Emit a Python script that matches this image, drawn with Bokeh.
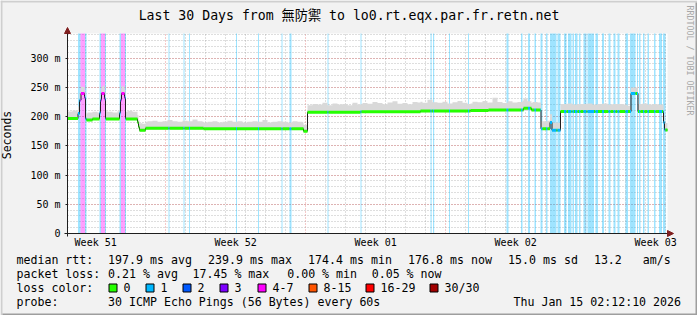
import bisect
import math

from bokeh.core.properties import value
from bokeh.embed import file_html
from bokeh.models import (Arrow, CustomJSTickFormatter, FixedTicker, NormalHead, Range1d,
                          SingleIntervalTicker)
from bokeh.plotting import figure
from bokeh.resources import INLINE

# ------------------------------------------------------------------ data
TITLE = "Last 30 Days from 無防禦 to lo0.rt.eqx.par.fr.retn.net"
SPAN_H = 720            # hours shown, from Tue 2025-12-16 02:12:10 to Thu 2026-01-15 02:12:10
Y_MAX_MS = 342
Y_TICK_STEP = 50

WEEK_START_H = [117.8, 285.8, 453.8, 621.8]          # Sunday 00:00 boundaries
WEEK_LABEL_H = [33.8, 201.8, 369.8, 537.8, 705.8]    # middle of each week
WEEK_LABELS = ["Week 51", "Week 52", "Week 01", "Week 02", "Week 03"]
FIRST_MIDNIGHT_H = 21.8

# median rtt (ms) as a step series: value holds from MEDIAN_T[i] until the next time
MEDIAN_T = [0, 12.6, 14.4, 16.2, 20.4, 21.6, 22.8, 30.0,
            38.4, 39.6, 40.8, 44.4, 45.6,
            62.4, 63.6, 64.8, 68.4, 69.6,
            84.0, 85.2, 86.4, 93.6,
            163.2, 283.2, 288.0,
            351.6, 423.6, 483.6, 505.2,
            547.2, 556.8,
            568.2, 579.0, 581.4, 591.6,
            676.2, 684.6,
            715.2, 716.4]
MEDIAN_MS = [196.5, 205, 228, 239.5, 232, 196, 194, 196,
             206, 228, 239.5, 230, 196,
             206, 228, 239.5, 232, 196,
             190, 182, 176.5, 180,
             179, 175, 207.5,
             208, 209.5, 210.5, 211,
             214, 211,
             179, 190, 176.5, 208.5,
             239.5, 208.5,
             190, 177]

# periods with packet loss (hours) and their loss class (index into LOSS_LABELS)
LOSS_START = [12.6, 15.6, 21.0, 38.4, 40.2, 45.0, 62.4, 64.2, 69.0,
              121.2, 139.2, 145.8, 202.2, 228.6, 256.8, 266.4, 312.0, 351.6,
              435.6, 438.6, 457.8, 480.6, 526.8, 544.2, 552.6, 560.4,
              567.6, 574.2, 579.0, 588.0, 595.8, 600.6, 606.0, 609.0, 613.8,
              619.2, 624.0, 633.6, 641.4, 649.2, 655.2, 660.0,
              669.6, 675.0, 683.4, 685.8, 690.6, 696.0, 703.8, 709.8, 714.6]
LOSS_END = [15.6, 21.0, 22.8, 40.2, 45.0, 46.2, 64.2, 69.0, 70.2,
            122.4, 140.4, 147.0, 203.4, 229.8, 258.0, 268.8, 313.2, 352.8,
            437.0, 440.0, 459.0, 481.8, 529.2, 546.0, 555.0, 562.2,
            570.0, 576.0, 586.8, 591.6, 598.8, 604.8, 607.8, 612.0, 615.6,
            622.8, 631.8, 636.6, 643.8, 651.6, 657.6, 662.4,
            672.6, 681.6, 684.6, 687.6, 692.4, 697.8, 705.6, 713.4, 717.6]
LOSS_CLASS = [1, 4, 1, 1, 4, 1, 1, 4, 1,
              1, 1, 1, 1, 1, 1, 1, 1, 1,
              1, 1, 1, 1, 1, 1, 1, 1,
              1, 1, 1, 1, 1, 1, 1, 1, 1,
              1, 1, 1, 1, 1, 1, 1,
              1, 1, 1, 1, 1, 1, 1, 1, 1]

# smoke: spread of the pings above the median (ms), one value per 6-hour bin
SPREAD_BIN_H = 6
SPREAD_MS = [12, 14, 12, 11, 13, 12, 11, 13, 12, 11,
             13, 12, 14, 12, 12, 11, 12, 13, 11, 12,
             14, 12, 11, 13, 12, 15, 12, 11, 12, 13,
             11, 12, 14, 12, 13, 11, 12, 13, 12, 15,
             11, 12, 13, 12, 11, 13, 12, 11, 12, 14,
             13, 16, 12, 15, 13, 14, 12, 16, 13, 15,
             14, 17, 15, 13, 16, 18, 14, 15, 13, 17,
             16, 14, 19, 15, 14, 16, 13, 15, 17, 14,
             12, 15, 14, 16, 13, 21, 14, 12, 15, 13,
             14, 16, 12, 14, 13, 13, 14, 13, 13, 13,
             14, 12, 13, 13, 14, 12, 13, 14, 12, 13,
             13, 12, 10, 10, 13, 14, 12, 13, 12, 12]

LOSS_LABELS = ["0", "1", "2", "3", "4-7", "8-15", "16-29", "30/30"]
LOSS_COLORS = ["#26ff00", "#00b8ff", "#0059ff", "#7e00ff",
               "#ff00ff", "#ff5500", "#ff0000", "#a10000"]

RTT_LABEL = "median rtt:"
RTT_STATS = ["197.9 ms avg", "239.9 ms max", "174.4 ms min", "176.8 ms now",
             "15.0 ms sd", "13.2", "am/s"]
LOSS_LABEL = "packet loss:"
LOSS_STATS = ["0.21 % avg", "17.45 % max", "0.00 % min", "0.05 % now"]
LOSSCOL_LABEL = "loss color:"
PROBE_LABEL = "probe:"
PROBE_TEXT = "30 ICMP Echo Pings (56 Bytes) every 60s"
STAMP = "Thu Jan 15 02:12:10 2026"
WATERMARK = "RRDTOOL / TOBI OETIKER"

# ------------------------------------------------------------------ layout / style (pixels)
FONT = "DejaVu Sans Mono"
TITLE_FONT = "DejaVu Sans Mono, Noto Sans CJK TC"
W, H = 697, 315
FRAME_L, FRAME_T, FRAME_W, FRAME_H = 67, 33, 600, 200
FRAME_B = FRAME_T + FRAME_H
RTT_X = [107.6, 207.6, 307.6, 407.6, 507.6, 593.4, 642.3]
LOSS_X = [107.6, 192.0, 286.7, 371.2]
SWATCH_X = [108, 145, 182, 219, 257, 308, 365, 429]
ROW_Y = [259.3, 273.3, 287.3, 301.0]


def hx(X):
    """window pixel column -> hours"""
    return (X - FRAME_L) * SPAN_H / FRAME_W


def my(Y):
    """window pixel row -> ms"""
    return (FRAME_B - Y) * Y_MAX_MS / FRAME_H


# ------------------------------------------------------------------ derived series
cuts = sorted(set([0.0, float(SPAN_H)] + MEDIAN_T + LOSS_START + LOSS_END
                  + [float(SPREAD_BIN_H * i) for i in range(len(SPREAD_MS) + 1)]))


def median_at(t):
    return MEDIAN_MS[bisect.bisect_right(MEDIAN_T, t) - 1]


def loss_at(t):
    for s, e, c in zip(LOSS_START, LOSS_END, LOSS_CLASS):
        if s <= t < e:
            return c
    return 0


def spread_at(t):
    return SPREAD_MS[min(int(t // SPREAD_BIN_H), len(SPREAD_MS) - 1)]


med_y = [median_at(t) for t in cuts]
smoke_lo = [median_at(t) - 2 for t in cuts]
smoke_hi = [median_at(t) + spread_at(t) for t in cuts]

seg_x0, seg_x1, seg_y, seg_c = [], [], [], []
for a, b in zip(cuts[:-1], cuts[1:]):
    v, c = median_at(a), LOSS_COLORS[loss_at(a)]
    if seg_x0 and seg_y[-1] == v and seg_c[-1] == c and seg_x1[-1] == a:
        seg_x1[-1] = b
    else:
        seg_x0.append(a)
        seg_x1.append(b)
        seg_y.append(v)
        seg_c.append(c)

# ------------------------------------------------------------------ figure
p = figure(width=W, height=H, title=None,
           x_range=Range1d(hx(0), hx(W)), y_range=Range1d(my(H), my(0)),
           output_backend="svg", toolbar_location=None, min_border=0)
p.background_fill_color = "#f2f2f2"
p.border_fill_color = "#f2f2f2"
p.outline_line_color = None

# canvas (white plotting area)
p.quad(left=0, right=SPAN_H, bottom=0, top=Y_MAX_MS, fill_color="white",
       line_color=None, level="image")

# 3d border of the image
p.quad(left=hx(0), right=hx(W), bottom=my(2), top=my(0), fill_color="#cfcfcf", line_color=None)
p.quad(left=hx(0), right=hx(2), bottom=my(H), top=my(0), fill_color="#cfcfcf", line_color=None)
p.quad(left=hx(2), right=hx(W), bottom=my(H), top=my(H - 2), fill_color="#9e9e9e", line_color=None)
p.quad(left=hx(W - 2), right=hx(W), bottom=my(H), top=my(2), fill_color="#9e9e9e", line_color=None)

# loss stripes
p.quad(left=LOSS_START, right=LOSS_END, bottom=0, top=Y_MAX_MS,
       fill_color=[LOSS_COLORS[c] for c in LOSS_CLASS], fill_alpha=0.376, line_color=None)
# smoke
p.varea_step(x=cuts, y1=smoke_lo, y2=smoke_hi, step_mode="after", fill_color="#d9d9d9")
# median line
p.step(x=cuts, y=med_y, mode="after", line_color="#202020", line_width=1)
p.segment(x0=seg_x0, x1=seg_x1, y0=seg_y, y1=seg_y, line_color=seg_c, line_width=3)

# axes, fixed at the origin
yax = p.yaxis[0]
yax.fixed_location = 0
yax.bounds = (my(FRAME_B + 3), Y_MAX_MS)
yax.ticker = SingleIntervalTicker(interval=Y_TICK_STEP, num_minor_ticks=5)
yax.formatter = CustomJSTickFormatter(code="return tick == 0 ? '0' : tick.toFixed(0) + ' m';")
yax.axis_label = "Seconds"
yax.axis_label_text_font = FONT
yax.axis_label_text_font_size = "11.5px"
yax.axis_label_text_font_style = "normal"
yax.axis_label_text_color = "black"
yax.axis_label_standoff = 13
yax.major_tick_out = 2
yax.major_tick_in = 0
yax.minor_tick_out = 0
yax.minor_tick_in = 0
yax.major_label_standoff = 5

xax = p.xaxis[0]
xax.fixed_location = 0
xax.bounds = (hx(FRAME_L - 3), SPAN_H)
xax.ticker = FixedTicker(ticks=WEEK_LABEL_H)
xax.formatter = CustomJSTickFormatter(
    args=dict(pos=WEEK_LABEL_H, labels=WEEK_LABELS),
    code="""let b = 0;
for (let i = 0; i < pos.length; i++) { if (Math.abs(pos[i] - tick) < Math.abs(pos[b] - tick)) b = i; }
return labels[b];""")
xax.major_tick_out = 0
xax.major_tick_in = 0
xax.minor_tick_out = 0
xax.minor_tick_in = 0
xax.major_label_standoff = 3

for ax in (xax, yax):
    ax.axis_line_color = "#1f1f1f"
    ax.major_tick_line_color = "#1f1f1f"
    ax.major_label_text_font = FONT
    ax.major_label_text_font_size = "10px"
    ax.major_label_text_color = "black"

# grid, restricted to the plotting area
xg = p.xgrid[0]
yg = p.ygrid[0]
midnights = [FIRST_MIDNIGHT_H + 24 * d for d in range(30)]
xg.ticker = FixedTicker(ticks=WEEK_START_H,
                        minor_ticks=[m for m in midnights
                                     if min(abs(m - w) for w in WEEK_START_H) > 1e-6])
xg.bounds = (0, SPAN_H)
xg.cross_bounds = (0, Y_MAX_MS)
yg.bounds = (0, Y_MAX_MS)
yg.cross_bounds = (0, SPAN_H)
for g in (xg, yg):
    g.grid_line_color = "#de4f4f"
    g.grid_line_alpha = 0.6
    g.grid_line_dash = "1 2"
    g.minor_grid_line_color = "#8f8f8f"
    g.minor_grid_line_alpha = 0.6
    g.minor_grid_line_dash = "1 2"

# axis arrows
head = dict(size=6, fill_color="#801f1f", line_color="#801f1f")
p.add_layout(Arrow(end=NormalHead(**head), x_start=0, y_start=Y_MAX_MS, x_end=0,
                   y_end=my(27), line_color="#1f1f1f", line_width=1))
p.add_layout(Arrow(end=NormalHead(**head), x_start=SPAN_H, y_start=0,
                   x_end=hx(673), y_end=0, line_color="#1f1f1f", line_width=1))


def txt(s, X, Y, align="left", size="11.6px", color="black", angle=0.0, font=FONT):
    p.text(x=[hx(X)], y=[my(Y)], text=[s], text_font=value(font),
           text_font_size=value(size), text_color=color, text_align=align,
           text_baseline="middle", angle=angle)


txt(TITLE, W / 2, 15, align="center", size="13.2px", font=TITLE_FONT)
txt(WATERMARK, 689, 5, size="8.3px", color="#a8a8a8", angle=-math.pi / 2)

txt(RTT_LABEL, 16, ROW_Y[0])
for s, x in zip(RTT_STATS, RTT_X):
    txt(s, x, ROW_Y[0])
txt(LOSS_LABEL, 16, ROW_Y[1])
for s, x in zip(LOSS_STATS, LOSS_X):
    txt(s, x, ROW_Y[1])
txt(LOSSCOL_LABEL, 16, ROW_Y[2])
for lab, col, sx in zip(LOSS_LABELS, LOSS_COLORS, SWATCH_X):
    p.quad(left=hx(sx + 0.5), right=hx(sx + 8.5), top=my(283.5), bottom=my(291.5),
           fill_color=col, line_color="black", line_width=1)
    txt(lab, sx + 15, ROW_Y[2])
txt(PROBE_LABEL, 16, ROW_Y[3])
txt(PROBE_TEXT, 107.6, ROW_Y[3])
txt(STAMP, 680.5, ROW_Y[3], align="right")

open("out.html", "w").write(file_html(p, INLINE))
